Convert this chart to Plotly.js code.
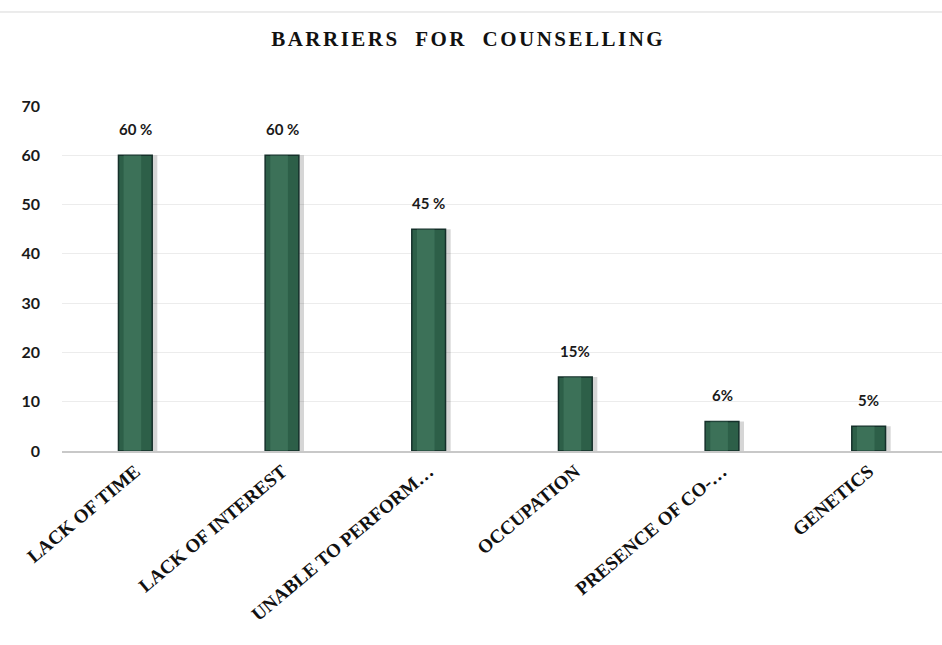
<!DOCTYPE html>
<html>
<head>
<meta charset="utf-8">
<script src="https://cdn.plot.ly/plotly-3.0.1.min.js"></script>
<style>
html,body{margin:0;padding:0;background:#fff;}
#chart{width:942px;height:645px;}
#chart .gtitle{letter-spacing:2.5px;}
</style>
</head>
<body>
<div id="chart"></div>
<script>
const categories = ["LACK OF TIME", "LACK OF INTEREST", "UNABLE TO PERFORM…", "OCCUPATION", "PRESENCE OF CO-…", "GENETICS"];
const values = [60, 60, 45, 15, 6, 5];
const valueLabels = ["60 %", "60 %", "45 %", "15%", "6%", "5%"];
const yTicks = [0, 10, 20, 30, 40, 50, 60, 70];

const shadow = {
  type: "bar", x: categories, y: values,
  marker: {color: "rgba(0,0,0,0.16)", line: {width: 0}},
  width: 0.25, offset: -0.10, hoverinfo: "skip", showlegend: false
};
const main = {
  type: "bar", x: categories, y: values,
  marker: {color: "#2d5f48", line: {color: "#15302a", width: 1.5}},
  width: 0.23, offset: -0.115, showlegend: false
};
const highlight = {
  type: "bar", x: categories, y: values,
  marker: {color: "rgba(90,150,120,0.35)", line: {width: 0}},
  width: 0.12, offset: -0.08, hoverinfo: "skip", showlegend: false
};

const annotations = categories.map((c, i) => ({
  x: c, y: values[i], xref: "x", yref: "y",
  text: "<b>" + valueLabels[i] + "</b>", showarrow: false,
  yshift: 26, font: {family: "Lato, 'Open Sans', sans-serif", size: 15, color: "#1a1a1a"}
}));

const layout = {
  width: 942, height: 645,
  margin: {l: 62, r: 0, t: 106, b: 194},
  paper_bgcolor: "#ffffff", plot_bgcolor: "#ffffff",
  barmode: "overlay",
  title: {
    text: "<b>BARRIERS&nbsp;&nbsp;FOR&nbsp;&nbsp;COUNSELLING</b>",
    font: {family: "'Liberation Serif', 'Times New Roman', serif", size: 21, color: "#111"},
    x: 0.497, xref: "container", xanchor: "center",
    y: 0.94, yref: "container", yanchor: "middle"
  },
  xaxis: {
    type: "category", tickangle: -40,
    tickvals: categories, ticktext: categories.map(c => "<b>" + c + "</b>"),
    tickfont: {family: "'Liberation Serif', 'Times New Roman', serif", size: 19, color: "#111"},
    showgrid: false, showline: true, linecolor: "#c8c8c8", linewidth: 2,
    ticks: "", range: [-0.5, 5.5], automargin: false
  },
  yaxis: {
    range: [0, 70], tickvals: yTicks, ticktext: yTicks.map(v => "<b>" + v + "</b>"),
    tickfont: {family: "Lato, 'Open Sans', sans-serif", size: 16, color: "#1a1a1a"},
    showgrid: true, gridcolor: "#ececec", gridwidth: 1,
    zeroline: false, showline: false, ticks: "", ticklabelstandoff: 21,
    automargin: false
  },
  annotations: annotations,
  shapes: [{
    type: "line", xref: "paper", yref: "paper",
    x0: -0.0705, x1: 1, y0: 1.2725, y1: 1.2725,
    line: {color: "#d9d9d9", width: 1}
  }]
};

Plotly.newPlot("chart", [shadow, main, highlight], layout, {displayModeBar: false, staticPlot: true});
</script>
</body>
</html>
